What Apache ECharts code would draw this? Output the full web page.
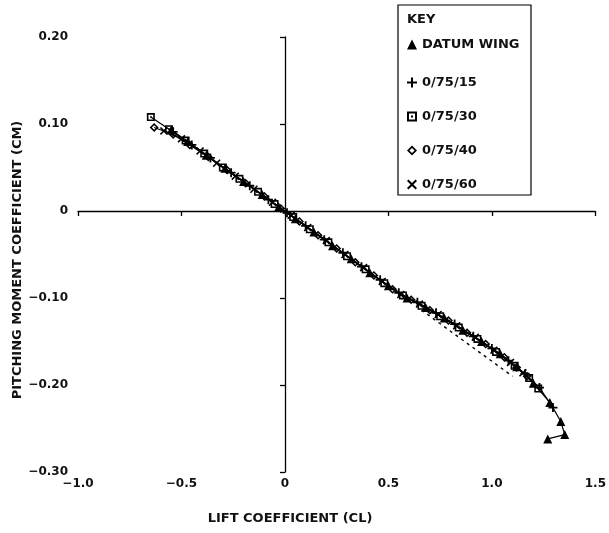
<!DOCTYPE html>
<html><head><meta charset="utf-8">
<script src="https://cdn.jsdelivr.net/npm/echarts@6/dist/echarts.min.js"></script>
<style>html,body{margin:0;padding:0;background:#fff}#c{width:609px;height:533px}</style>
</head><body><div id="c"></div>
<script>
// ---- tick labels ----
const xTickLabels = ['\u22121.0', '\u22120.5', '0', '0.5', '1.0', '1.5'];
const yTickLabels = ['\u22120.30', '\u22120.20', '\u22120.10', '0', '0.10', '0.20'];
const seriesNames = ['DATUM WING', '0/75/15', '0/75/30', '0/75/40', '0/75/60'];

// ---- DATUM WING (triangles) ----
const datumCL = [-0.55, -0.47, -0.38, -0.29, -0.20, -0.11, -0.03, 0.05, 0.14, 0.23, 0.32, 0.41, 0.50, 0.59, 0.68, 0.77, 0.86, 0.95, 1.04, 1.12, 1.20, 1.28, 1.333, 1.352, 1.27];
const datumCM = [0.093, 0.080, 0.064, 0.049, 0.034, 0.019, 0.005, -0.009, -0.024, -0.040, -0.055, -0.071, -0.086, -0.100, -0.111, -0.123, -0.137, -0.150, -0.164, -0.179, -0.198, -0.220, -0.242, -0.257, -0.262];

// ---- 0/75/15 (plus) ----
const s15CL = [-0.54, -0.45, -0.36, -0.26, -0.17, -0.08, 0.01, 0.10, 0.19, 0.28, 0.37, 0.46, 0.55, 0.64, 0.73, 0.82, 0.91, 1.00, 1.08, 1.16, 1.23, 1.295];
const s15CM = [0.091, 0.076, 0.061, 0.044, 0.029, 0.013, -0.002, -0.017, -0.033, -0.048, -0.064, -0.079, -0.094, -0.105, -0.117, -0.130, -0.144, -0.158, -0.172, -0.187, -0.203, -0.226];

// ---- 0/75/30 (square) ----
const s30CL = [-0.648, -0.56, -0.48, -0.39, -0.30, -0.22, -0.13, -0.05, 0.04, 0.12, 0.21, 0.30, 0.39, 0.48, 0.57, 0.66, 0.75, 0.84, 0.93, 1.02, 1.11, 1.18, 1.224];
const s30CM = [0.108, 0.094, 0.081, 0.066, 0.050, 0.037, 0.022, 0.008, -0.007, -0.021, -0.036, -0.052, -0.067, -0.083, -0.097, -0.109, -0.121, -0.134, -0.147, -0.162, -0.178, -0.192, -0.204];

// ---- 0/75/40 (diamond) ----
const s40CL = [-0.632, -0.54, -0.46, -0.37, -0.28, -0.19, -0.10, -0.02, 0.07, 0.16, 0.25, 0.34, 0.43, 0.52, 0.61, 0.70, 0.79, 0.88, 0.97, 1.06, 1.12, 1.17];
const s40CM = [0.096, 0.088, 0.076, 0.062, 0.047, 0.032, 0.017, 0.003, -0.012, -0.028, -0.043, -0.059, -0.074, -0.090, -0.102, -0.114, -0.126, -0.140, -0.153, -0.168, -0.180, -0.190];

// ---- 0/75/60 (cross) ----
const s60CL = [-0.585, -0.50, -0.41, -0.33, -0.24, -0.15, -0.06, 0.03, 0.11, 0.20, 0.29, 0.38, 0.47, 0.56, 0.65, 0.74, 0.83, 0.92, 1.01, 1.09, 1.15];
const s60CM = [0.092, 0.083, 0.069, 0.055, 0.040, 0.025, 0.010, -0.005, -0.019, -0.034, -0.050, -0.065, -0.081, -0.096, -0.107, -0.119, -0.132, -0.145, -0.160, -0.174, -0.186];

// ---- dashed linear extension ----
const dashCL = [0.66, 1.10];
const dashCM = [-0.114, -0.190];

const PLUS = 'path://M4,0H6V4H10V6H6V10H4V6H0V4H4Z';
const SQUARE = 'path://M0,0H10V10H0Z M2,2V8H8V2Z M4,4H6V6H4Z';
const DIAMOND = 'path://M5,0L10,5L5,10L0,5Z M5,2.4L2.4,5L5,7.6L7.6,5Z';
const CROSS = 'path://M0,1.4L1.4,0L5,3.6L8.6,0L10,1.4L6.4,5L10,8.6L8.6,10L5,6.4L1.4,10L0,8.6L3.6,5Z';
const symbols = ['triangle', PLUS, SQUARE, DIAMOND, CROSS];
const symSizes = [9, 9, 8, 9, 8];
const allCL = [datumCL, s15CL, s30CL, s40CL, s60CL];
const allCM = [datumCM, s15CM, s30CM, s40CM, s60CM];

const FONT = '"DejaVu Sans", sans-serif';
const txt = { fontFamily: FONT, fontSize: 13, fontWeight: 'bold', color: '#111' };
const tickTxt = { fontFamily: FONT, fontSize: 12, fontWeight: 'bold', color: '#111' };

const chart = echarts.init(document.getElementById('c'), null, { renderer: 'canvas' });

const series = seriesNames.map((n, k) => ({
  name: n, type: 'line', xAxisIndex: 0, yAxisIndex: 0,
  data: allCL[k].map((x, i) => [x, allCM[k][i]]),
  symbol: symbols[k], symbolSize: symSizes[k], showSymbol: true,
  lineStyle: { color: '#000', width: 1.2 }, itemStyle: { color: '#000' },
  animation: false, z: 3
}));
series.push({
  name: 'linear', type: 'line', xAxisIndex: 0, yAxisIndex: 0,
  data: dashCL.map((x, i) => [x, dashCM[i]]), symbol: 'none',
  lineStyle: { color: '#000', width: 1.4, type: [3, 4] }, animation: false, z: 2
});

const legendY = [43, 81, 115, 149, 183];
const legends = seriesNames.map((n, k) => ({
  data: [{ name: n, icon: symbols[k] }], orient: 'vertical', left: 407, top: legendY[k] - 5,
  itemWidth: 10, itemHeight: 10, itemGap: 0, padding: 0, selectedMode: false,
  itemStyle: { color: '#000' }, textStyle: Object.assign({}, txt)
}));

chart.setOption({
  animation: false,
  backgroundColor: '#fff',
  grid: { left: 78, right: 6, top: 37, bottom: 61, containLabel: false },
  xAxis: [
    { type: 'value', min: -1, max: 1.5, interval: 0.5, position: 'bottom',
      axisLine: { show: true, onZero: true, onZeroAxisIndex: 0, lineStyle: { color: '#000', width: 1.3 } },
      axisTick: { show: true, length: 5, lineStyle: { color: '#000', width: 1.3 } },
      axisLabel: { show: false }, splitLine: { show: false } },
    { type: 'value', min: -1, max: 1.5, interval: 0.5, position: 'bottom',
      axisLine: { show: false, onZero: false }, axisTick: { show: false },
      axisLabel: Object.assign({ show: true, margin: 6,
        formatter: v => xTickLabels[Math.round((v + 1) / 0.5)] }, tickTxt),
      splitLine: { show: false } }
  ],
  yAxis: [
    { type: 'value', min: -0.3, max: 0.2, interval: 0.1, position: 'left',
      axisLine: { show: true, onZero: true, onZeroAxisIndex: 0, lineStyle: { color: '#000', width: 1.3 } },
      axisTick: { show: true, length: 5, lineStyle: { color: '#000', width: 1.3 } },
      axisLabel: { show: false }, splitLine: { show: false } },
    { type: 'value', min: -0.3, max: 0.2, interval: 0.1, position: 'left',
      axisLine: { show: false, onZero: false }, axisTick: { show: false },
      axisLabel: Object.assign({ show: true, margin: 10,
        formatter: v => yTickLabels[Math.round((v + 0.3) / 0.1)] }, tickTxt),
      splitLine: { show: false } }
  ],
  legend: legends,
  graphic: [
    { type: 'rect', shape: { x: 398, y: 5, width: 133, height: 190 },
      style: { fill: 'none', stroke: '#000', lineWidth: 1.2 }, z: 10 },
    { type: 'text', x: 407, y: 20, z: 10,
      style: { text: 'KEY', font: 'bold 13px ' + FONT, fill: '#111', textVerticalAlign: 'middle' } },
    { type: 'text', x: 290, y: 519, z: 10,
      style: { text: 'LIFT COEFFICIENT (CL)', font: 'bold 13px ' + FONT, fill: '#111', textAlign: 'center', textVerticalAlign: 'middle' } },
    { type: 'text', x: 18, y: 260, rotation: Math.PI / 2, z: 10,
      style: { text: 'PITCHING MOMENT COEFFICIENT (CM)', font: 'bold 13px ' + FONT, fill: '#111', textAlign: 'center', textVerticalAlign: 'middle' } }
  ],
  series: series
});
</script>
</body></html>
